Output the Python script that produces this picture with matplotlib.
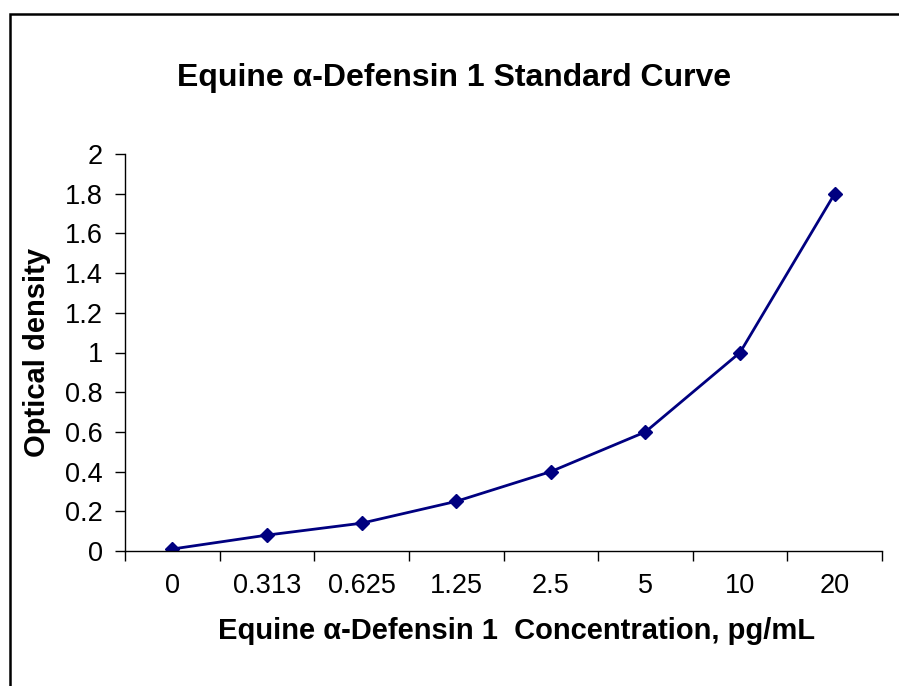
import matplotlib
matplotlib.use("Agg")
import matplotlib.pyplot as plt
from matplotlib.patches import Rectangle

plt.rcParams['font.family'] = ['Liberation Sans', 'DejaVu Sans']

categories = ["0", "0.313", "0.625", "1.25", "2.5", "5", "10", "20"]
od_values = [0.01, 0.08, 0.14, 0.25, 0.40, 0.60, 1.00, 1.80]
y_ticks = [0, 0.2, 0.4, 0.6, 0.8, 1, 1.2, 1.4, 1.6, 1.8, 2]
y_tick_labels = ["0", "0.2", "0.4", "0.6", "0.8", "1", "1.2", "1.4", "1.6", "1.8", "2"]

W, H = 899, 686
fig = plt.figure(figsize=(W / 100, H / 100), dpi=100)

# outer chart frame
fig.patches.append(Rectangle((10 / W, -0.1), 1.2, 1 - 14 / H + 0.1,
                             transform=fig.transFigure, fill=False,
                             edgecolor='black', linewidth=1.8))

ax = fig.add_axes([125 / W, 1 - 551 / H, (882 - 125) / W, (551 - 154) / H])
x = list(range(len(categories)))
ax.plot(x, od_values, color='#000080', linewidth=2, marker='D',
        markersize=7.5, markerfacecolor='#000080', markeredgecolor='#000080')

ax.set_xlim(-0.5, len(categories) - 0.5)
ax.set_ylim(0, 2)
ax.set_yticks(y_ticks)
ax.set_yticklabels(y_tick_labels)
ax.set_xticks(x)
ax.set_xticklabels(categories)
ax.set_xticks([i - 0.5 for i in range(len(categories) + 1)], minor=True)
ax.tick_params(axis='x', which='major', length=0, pad=16, labelsize=19.5)
ax.tick_params(axis='x', which='minor', length=7, width=1, direction='out')
ax.tick_params(axis='y', length=7, width=1, direction='out', pad=9, labelsize=19.5)

for s in ['top', 'right']:
    ax.spines[s].set_visible(False)
for s in ['left', 'bottom']:
    ax.spines[s].set_linewidth(1)

ax.set_xlabel("Equine α-Defensin 1  Concentration, pg/mL", fontsize=21,
              fontweight='bold', labelpad=13)
ax.xaxis.label.set_x((517 - 125) / (882 - 125))
ax.set_ylabel("Optical density", fontsize=21, fontweight='bold', labelpad=10)
fig.text(454 / W, 1 - 78 / H, "Equine α-Defensin 1 Standard Curve",
         fontsize=23, fontweight='bold', ha='center', va='center')

fig.savefig("out.png", dpi=100)
